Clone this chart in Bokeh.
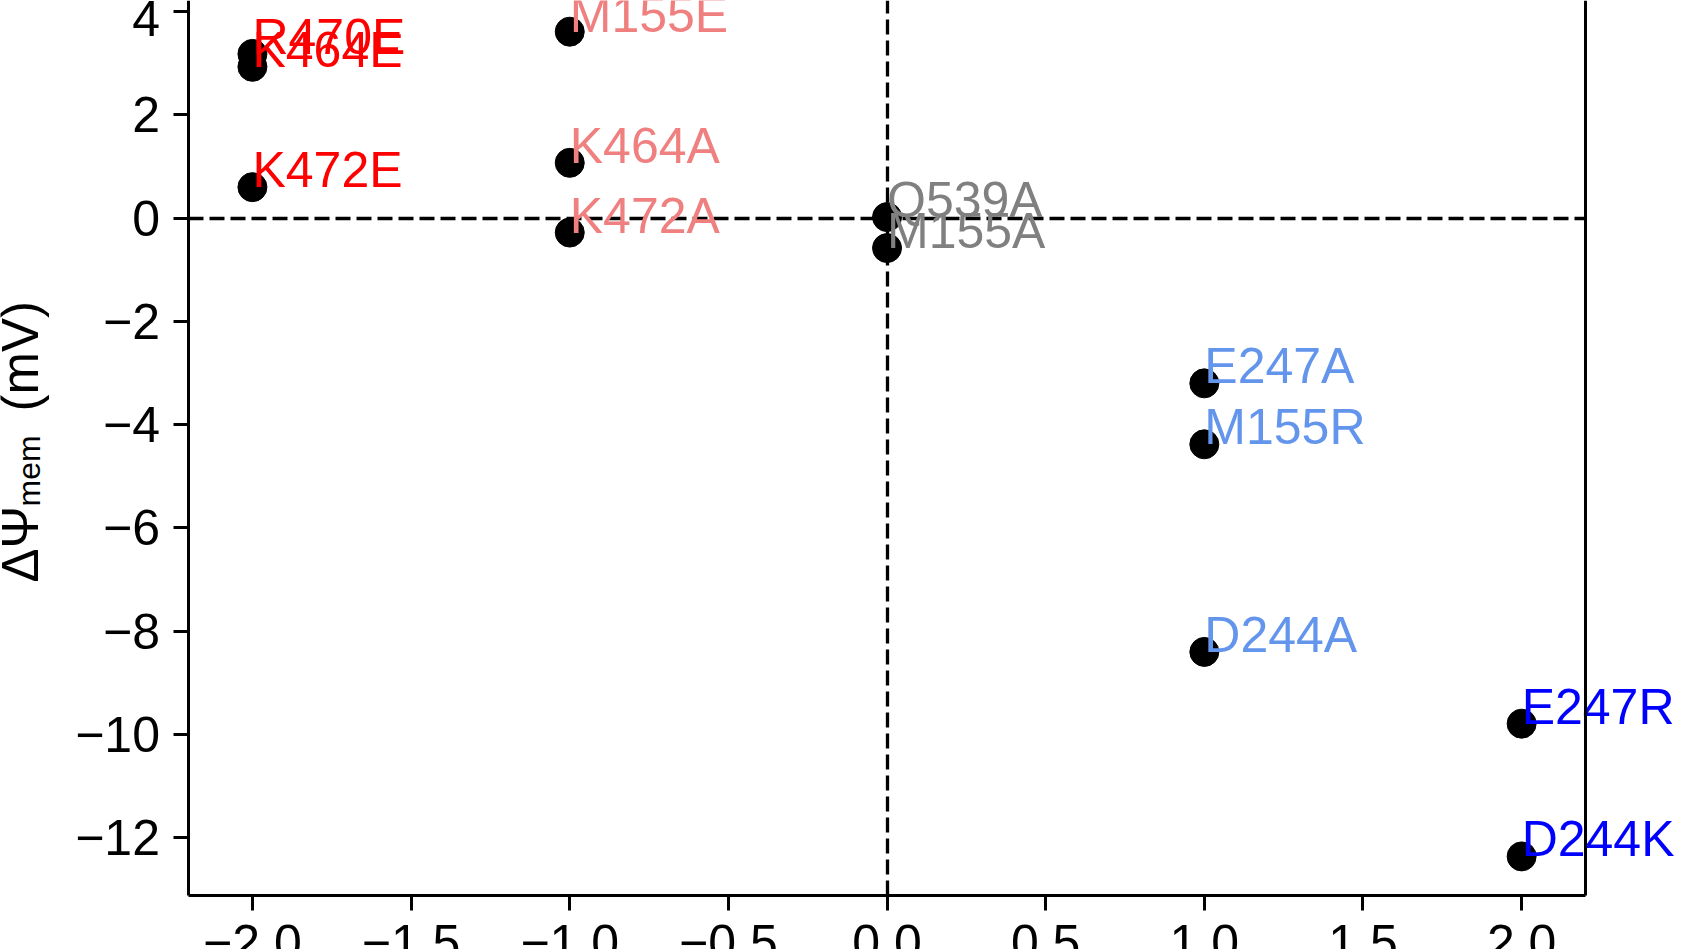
import math
from bokeh.plotting import figure
from bokeh.models import ColumnDataSource, LabelSet, Label, LinearAxis, FixedTicker, Range1d
from bokeh.embed import file_html
from bokeh.resources import INLINE
from bokeh.core.properties import value

# ---- data ----
mutants = ["K464E", "R470E", "K472E", "M155E", "K464A", "K472A",
           "Q539A", "M155A", "E247A", "M155R", "D244A", "E247R", "D244K"]
charge_change = [-2, -2, -2, -1, -1, -1, 0, 0, 1, 1, 1, 2, 2]
delta_psi = [2.93, 3.18, 0.60, 3.61, 1.07, -0.28, 0.02, -0.58,
             -3.20, -4.38, -8.40, -9.79, -12.36]
label_colors = ["#FF0000", "#FF0000", "#FF0000",
                "#F08080", "#F08080", "#F08080",
                "#808080", "#808080",
                "#6495ED", "#6495ED", "#6495ED",
                "#0000FF", "#0000FF"]
x_ticks = [-2.0, -1.5, -1.0, -0.5, 0.0, 0.5, 1.0, 1.5, 2.0]
y_ticks = [-12, -10, -8, -6, -4, -2, 0, 2, 4]
x_limits = (-2.2, 2.2)          # axes box (spines)
y_limits = (-13.12, 4.40)
y_label_main = "ΔΨ"
y_label_sub = "mem"
y_label_unit = "(mV)"

FONT = "Liberation Sans"

def fmt(v, digits):
    s = f"{v:.{digits}f}"
    if float(s) == 0:
        s = s.lstrip("-")
    return s.replace("-", "\u2212")

# visible window of the (cropped) reference figure
p = figure(width=1702, height=949, output_backend="svg", toolbar_location=None,
           x_range=Range1d(-2.794, 2.570), y_range=Range1d(-14.163, 4.214),
           min_border=0, min_border_left=0, min_border_right=0,
           min_border_top=0, min_border_bottom=0, title=None)
p.outline_line_color = None
p.grid.visible = False
p.background_fill_color = "white"
p.border_fill_color = "white"

SPINE_W = 3

# left spine with y ticks
p.yaxis.fixed_location = x_limits[0]
p.yaxis.bounds = y_limits
p.yaxis.ticker = FixedTicker(ticks=y_ticks, minor_ticks=[])
p.yaxis.major_label_overrides = {v: fmt(v, 0) for v in y_ticks}
p.yaxis.major_label_standoff = 14
p.yaxis.major_tick_out = 15

# bottom spine with x ticks
p.xaxis.fixed_location = y_limits[0]
p.xaxis.bounds = x_limits
p.xaxis.ticker = FixedTicker(ticks=x_ticks, minor_ticks=[])
p.xaxis.major_label_overrides = {v: fmt(v, 1) for v in x_ticks}
p.xaxis.major_label_standoff = 14
p.xaxis.major_tick_out = 15

for ax in (p.xaxis, p.yaxis):
    ax.major_tick_in = 0
    ax.axis_line_width = SPINE_W
    ax.axis_line_color = "black"
    ax.major_tick_line_width = SPINE_W
    ax.major_tick_line_color = "black"
    ax.minor_tick_line_color = None
    ax.major_label_text_font = FONT
    ax.major_label_text_font_size = "50px"
    ax.major_label_text_color = "black"

# right spine (drawn on top of the point labels)
right = LinearAxis(fixed_location=x_limits[1], bounds=y_limits,
                   ticker=FixedTicker(ticks=[], minor_ticks=[]),
                   axis_line_width=SPINE_W, axis_line_color="black",
                   major_tick_out=0, major_tick_in=0, minor_tick_out=0, minor_tick_in=0,
                   level="overlay")
p.add_layout(right, "right")

# dashed zero lines (axes fixed at 0, limited to the axes box)
h0 = LinearAxis(fixed_location=0, bounds=x_limits,
                ticker=FixedTicker(ticks=[], minor_ticks=[]),
                axis_line_width=3.3, axis_line_color="black", axis_line_dash="15 6",
                major_tick_out=0, major_tick_in=0, minor_tick_out=0, minor_tick_in=0)
p.add_layout(h0, "below")
v0 = LinearAxis(fixed_location=0, bounds=y_limits,
                ticker=FixedTicker(ticks=[], minor_ticks=[]),
                axis_line_width=3.3, axis_line_color="black", axis_line_dash="15 6",
                major_tick_out=0, major_tick_in=0, minor_tick_out=0, minor_tick_in=0)
p.add_layout(v0, "left")

# y axis label with subscript
for txt, xs, ys, fs in ((y_label_main, 20, 367, "51px"),
                        (y_label_sub, 28, 443, "32px"),
                        (y_label_unit, 20, 538, "51px")):
    p.add_layout(Label(x=xs, y=ys, x_units="screen", y_units="screen", text=txt,
                       angle=math.pi / 2, text_align="left", text_baseline="alphabetic",
                       text_font=FONT, text_font_size=fs, text_color="black"))

src = ColumnDataSource(dict(x=charge_change, y=delta_psi, name=mutants, color=label_colors))
p.scatter("x", "y", source=src, size=29, fill_color="black", line_color="black")

p.add_layout(LabelSet(x="x", y="y", text="name", source=src, text_color="color",
                      text_font=value(FONT), text_font_size="50px",
                      text_align="left", text_baseline="alphabetic"))

open("out.html", "w").write(file_html(p, INLINE))
